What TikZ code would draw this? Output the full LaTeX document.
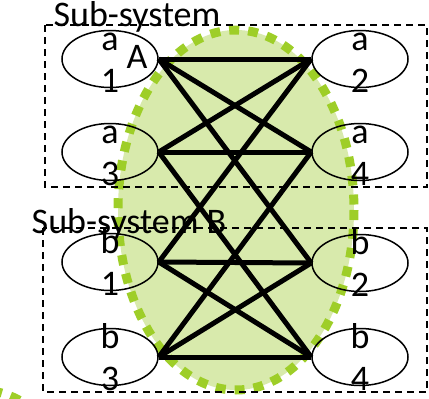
\documentclass[tikz,border=0pt]{standalone}
\usepackage{fontspec}
\setmainfont{Carlito}
\usetikzlibrary{shapes.geometric}
\definecolor{zone_light}{RGB}{216,234,172}
\definecolor{zone_dots}{RGB}{158,206,40}
\tikzstyle{bubble} = [ellipse, draw, line width=1.5pt, minimum width=96pt, minimum height=57pt, inner sep=0pt]
\tikzstyle{tag} = [align=center, inner sep=0pt, anchor=base, font=\fontsize{36}{42}\selectfont]
\tikzstyle{lbl} = [tag, yshift=-33pt]
\tikzstyle{link} = [line width=5pt]
\tikzstyle{group} = [line width=1.5pt, dash pattern=on 7pt off 5pt]
\tikzstyle{zone} = [draw=zone_dots, line width=9pt, dash pattern=on 10pt off 9pt]

\begin{document}
\begin{tikzpicture}[x=1pt, y=-1pt]
        \useasboundingbox (0,0) rectangle (429,399);
        % shared region of the two sub-systems
        \filldraw[zone, fill=zone_light] (236,210) ellipse [x radius=118, y radius=180];
        \draw[zone] (-20,570) ellipse [x radius=118, y radius=180];
        % dashed frames
        \draw[group] (45,25) rectangle (427,187);
        \draw[group] (43,228) rectangle (427,392);
        % agents
        \node (a1) [bubble] at (110,59) {};
        \node (a2) [bubble] at (360,59) {};
        \node (a3) [bubble] at (110,152) {};
        \node (a4) [bubble] at (360,152) {};
        \node (b1) [bubble] at (110,262) {};
        \node (b2) [bubble] at (360,263) {};
        \node (b3) [bubble] at (110,357) {};
        \node (b4) [bubble] at (360,357) {};
        % couplings
        \draw [link] (a1.east) -- (a2.west);
        \draw [link] (a1.east) -- (a4.west);
        \draw [link] (a1.east) -- (b2.west);
        \draw [link] (a3.east) -- (a2.west);
        \draw [link] (a3.east) -- (a4.west);
        \draw [link] (a3.east) -- (b4.west);
        \draw [link] (b1.east) -- (a2.west);
        \draw [link] (b1.east) -- (b2.west);
        \draw [link] (b1.east) -- (b4.west);
        \draw [link] (b3.east) -- (a4.west);
        \draw [link] (b3.east) -- (b2.west);
        \draw [link] (b3.east) -- (b4.west);
        % labels
        \node (a1_txt) [lbl] at (a1) {a\\1};
        \node (a2_txt) [lbl] at (a2) {a\\2};
        \node (a3_txt) [lbl] at (a3) {a\\3};
        \node (a4_txt) [lbl] at (a4) {a\\4};
        \node (b1_txt) [lbl] at (b1) {b\\1};
        \node (b2_txt) [lbl] at (b2) {b\\2};
        \node (b3_txt) [lbl] at (b3) {b\\3};
        \node (b4_txt) [lbl] at (b4) {b\\4};
        \node (sys_a) [tag] at (137,68) {Sub-system\\A};
        \node (sys_b) [tag] at (129,233) {Sub-system B};
    \end{tikzpicture}
\end{document}
